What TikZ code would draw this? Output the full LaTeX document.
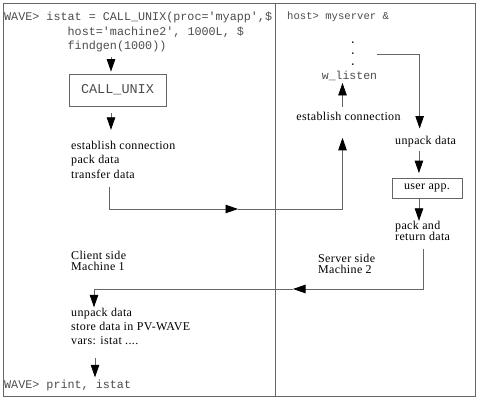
\documentclass[tikz,border=0pt]{standalone}
\usepackage{fontspec}
\setmainfont{Liberation Serif}[LetterSpace=3]
\newfontfamily\monofont{Liberation Mono}
\usetikzlibrary{arrows.meta,positioning}

\begin{document}
\begin{tikzpicture}[x=1pt,y=-1pt,
  link/.style={draw=black!60,line width=0.8pt},
  flow/.style={link,-{Triangle[length=12.5pt,width=8.5pt,color=black]}},
  txt/.style={inner sep=0pt,align=left,anchor=west,font=\fontsize{12}{#1}\selectfont},
  txt/.default=14.5,
  mono/.style={inner sep=0pt,align=left,anchor=west,text=black!70,font=\monofont\fontsize{#1}{14.5}\selectfont},
  mono/.default=11.75,
  box/.style={link,inner sep=0pt,font=\fontsize{12}{13}\selectfont}]
  \useasboundingbox (0,0) rectangle (483,407);
  % frame and the two halves
  \draw[link] (3,3) rectangle (475,396);
  \draw[link] (275,3) -- (275,396);

  % client side
  \node[mono] (call) at (4,32.2) {WAVE> istat = CALL\_UNIX(proc='myapp',\$\\\phantom{123456789}host='machine2', 1000L, \$\\\phantom{123456789}findgen(1000))};
  \node[box,minimum width=97pt,minimum height=32pt,text=black!70,font=\monofont\fontsize{13.5}{15}\selectfont] (cu) at (117.5,90) {CALL\_UNIX};
  \node[txt] (cest) at (71,159.75) {establish connection\\pack data\\transfer data};
  \node[txt=11.7] (client) at (71,260.8) {Client side\\Machine 1};
  \node[txt=14] (cunpack) at (71,326.75) {unpack data\\store data in PV-WAVE\\vars: istat ....};
  \node[mono] (print) at (4,385) {WAVE> print, istat};

  % server side
  \node[mono=10.6] (host) at (287,17) {host> myserver \&};
  \node[inner sep=0pt,align=center,font=\monofont\fontsize{11}{11}\selectfont] (dots) at (353,54) {.\\.\\.};
  \node[mono=11.5,anchor=center] (wl) at (349.5,76) {w\_listen};
  \node[txt,anchor=center] (sest) at (348.5,116.4) {establish connection};
  \node[txt] (sunpack) at (395,141.2) {unpack data};
  \node[box,minimum width=70pt,minimum height=20pt] (app) at (427,188) {user app.};
  \node[txt=11] (pack) at (395,230.75) {pack and\\return data};
  \node[txt=11] (server) at (318,263.75) {Server side\\Machine 2};

  \coordinate (xmid) at (238,209);
  \coordinate (rmid) at (293,289);

  % call and transfer
  \draw[flow,shorten <=5pt,shorten >=2pt] ([xshift=-6.5pt]cu.north |- call.south) -- ([xshift=-6.5pt]cu.north);
  \draw[flow,shorten <=7pt,shorten >=11pt] ([xshift=-6.5pt]cu.south) -- ([xshift=-6.5pt]cu.south |- cest.north);
  \draw[flow,shorten <=8pt] ([xshift=38pt]cest.south west) |- (xmid);
  \draw[flow,shorten >=17pt] (xmid) -| ([xshift=-6pt]sest.south);
  \draw[flow,shorten <=5pt,shorten >=2pt] ([xshift=-6pt]sest.north) -- ([xshift=-6pt]sest.north |- wl.south);
  % server work
  \draw[flow,shorten >=7pt] ([xshift=24pt]dots.center) -| ([xshift=-6pt]sunpack.north);
  \draw[flow,shorten <=4.5pt,shorten >=4.5pt] ([xshift=-6.7pt]sunpack.south) -- ([xshift=-6.7pt]sunpack.south |- app.north);
  \draw[flow] ([xshift=-8pt]app.south) -- ([xshift=-8pt]app.south |- pack.north);
  % return
  \draw[flow,shorten <=8pt] ([xshift=28pt]pack.south west) |- (rmid);
  \draw[flow,shorten >=1pt] (rmid) -| ([xshift=23pt]cunpack.north west);
  \draw[flow,shorten <=13pt,shorten >=2pt] ([xshift=24pt]cunpack.south west) -- ([xshift=24pt]cunpack.south west |- print.north);
\end{tikzpicture}
\end{document}
